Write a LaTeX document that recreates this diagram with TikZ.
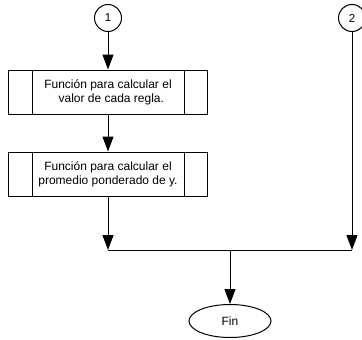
\documentclass[tikz,border=0pt]{standalone}
\usepackage{fontspec}
\setmainfont{Liberation Sans}
\usetikzlibrary{arrows.meta,shapes.geometric}
\tikzset{
  line/.style={draw=black, line width=1pt},
  flow/.style={line, -{Triangle[length=15pt,width=11pt]}},
  conn/.style={circle, draw, line width=1pt, minimum size=27pt, inner sep=0pt, font=\fontsize{11.5}{13}\selectfont},
  subproc/.style={rectangle, draw, line width=1pt, minimum width=199pt, minimum height=44pt,
    inner sep=0pt, align=center, font=\fontsize{12}{14}\selectfont,
    path picture={
      \draw[line] ([xshift=24pt]path picture bounding box.north west) -- ([xshift=24pt]path picture bounding box.south west);
      \draw[line] ([xshift=-23pt]path picture bounding box.north east) -- ([xshift=-23pt]path picture bounding box.south east);
    }},
  term/.style={ellipse, draw, line width=1pt, minimum width=82pt, minimum height=33pt, inner sep=0pt, font=\fontsize{12}{14}\selectfont},
}
\begin{document}
\begin{tikzpicture}[x=1pt,y=-1pt]
  \useasboundingbox (0,0) rectangle (362,340);
  \clip (0,0) rectangle (362,340);

  \node[conn] (c1) at (108,18) {1};
  \node[conn] (c2) at (352,18) {2};
  \node[subproc] (box1) at (108,92) {Función para calcular el\\ \ \ valor de cada regla.};
  \node[subproc] (box2) at (108,174) {Función para calcular el\\promedio ponderado de y.};
  \node[term] (fin) at (230,321) {Fin};

  \coordinate (jl) at (108,250);
  \coordinate (jr) at (352,250);
  \coordinate (jm) at (230,250);

  \draw[flow] (c1) -- (box1);
  \draw[flow] (box1) -- (box2);
  \draw[flow] (box2) -- (jl);
  \draw[flow] (c2) -- (jr);
  \draw[line] (jl) -- (jr);
  \draw[flow] (jm) -- (fin);
\end{tikzpicture}
\end{document}
